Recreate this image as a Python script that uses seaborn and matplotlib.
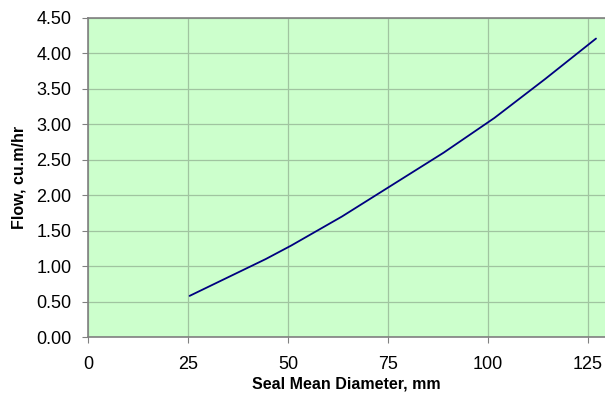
import numpy as np
import pandas as pd
import matplotlib
matplotlib.use('Agg')
import matplotlib.pyplot as plt
import seaborn as sns

# Data
diameter_mm = [25.4, 44.45, 50.8, 63.5, 76.2, 88.9, 101.6, 114.3, 127.0]
flow_cum_hr = [0.58, 1.10, 1.29, 1.70, 2.15, 2.60, 3.09, 3.64, 4.21]

df = pd.DataFrame({'Diameter': diameter_mm, 'Flow': flow_cum_hr})

sns.set_style('white')
plt.rcParams['font.family'] = ['Liberation Sans', 'DejaVu Sans']

fig = plt.figure(figsize=(6.05, 3.94), dpi=100)
ax = fig.add_axes([88 / 605, 57 / 394, 517 / 605, 319 / 394])
ax.set_facecolor('#CCFFCC')

sns.lineplot(data=df, x='Diameter', y='Flow', ax=ax, color='#000080', linewidth=1.3)

ax.set_xlim(0, 129.25)
ax.set_ylim(0, 4.5)
ax.set_xticks([0, 25, 50, 75, 100, 125])
ax.set_yticks(np.arange(0, 4.51, 0.5))
ax.set_yticklabels([f'{v:.2f}' for v in np.arange(0, 4.51, 0.5)])
ax.grid(True, color='#A0C4A0', linewidth=0.9)
ax.set_axisbelow(True)

for side in ['left', 'bottom', 'top']:
    ax.spines[side].set_color('#808080')
    ax.spines[side].set_linewidth(1.2)
ax.spines['right'].set_visible(False)

ax.tick_params(axis='both', direction='out', length=4, width=0.8, color='#808080',
               labelsize=13, labelcolor='black', left=True, bottom=True)
ax.tick_params(axis='y', pad=8)
ax.tick_params(axis='x', pad=10)
ax.set_xlabel('Seal Mean Diameter, mm', fontsize=11.5, fontweight='bold', labelpad=2,
              color='black')
ax.set_ylabel('Flow, cu.m/hr', fontsize=11.5, fontweight='bold', labelpad=7, color='black')

fig.savefig('out.png', dpi=100)
